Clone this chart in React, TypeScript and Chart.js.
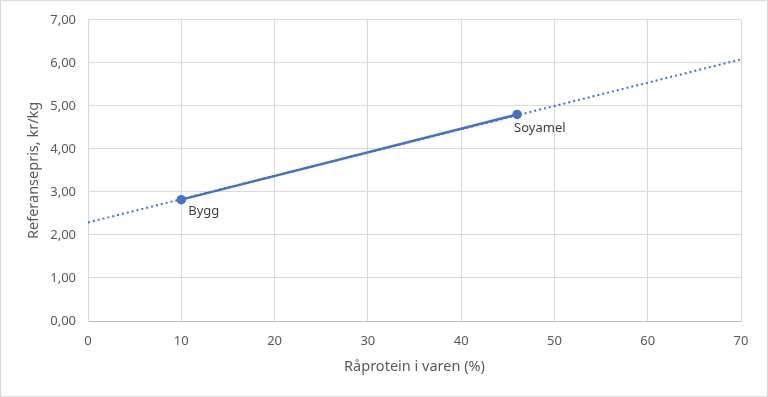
import React, { useEffect, useRef } from "react";
import { Chart, registerables } from "chart.js";

Chart.register(...registerables);

const pointNames = ["Bygg", "Soyamel"];
const proteinValues = [10, 46];
const priceValues = [2.82, 4.8];
const trendX = [0, 70];
const trendY = [2.29, 6.08];
const xTickValues = [0, 10, 20, 30, 40, 50, 60, 70];
const yTickValues = [0, 1, 2, 3, 4, 5, 6, 7];

const BLUE = "#4472C4";
const TEXT = "#595959";
const GRID = "#d9d9d9";
const FONT = "'Noto Sans', sans-serif";

const labelPlugin = {
  id: "pointLabels",
  afterDatasetsDraw(chart: any) {
    const ctx = chart.ctx;
    const meta = chart.getDatasetMeta(0);
    const offsets = [
      [7, 12],
      [-3, 14],
    ];
    ctx.save();
    ctx.font = `13px ${FONT}`;
    ctx.fillStyle = "#404040";
    ctx.textAlign = "left";
    ctx.textBaseline = "middle";
    meta.data.forEach((el: any, i: number) => {
      ctx.fillText(pointNames[i], el.x + offsets[i][0], el.y + offsets[i][1]);
    });
    ctx.restore();
  },
};

const borderPlugin = {
  id: "outerBorder",
  beforeDraw(chart: any) {
    const ctx = chart.ctx;
    ctx.save();
    ctx.fillStyle = "#ffffff";
    ctx.fillRect(0, 0, chart.width, chart.height);
    ctx.strokeStyle = GRID;
    ctx.lineWidth = 1;
    ctx.strokeRect(0.5, 0.5, chart.width - 1, chart.height - 1);
    ctx.restore();
  },
};

export default function App() {
  const ref = useRef<HTMLCanvasElement>(null);
  useEffect(() => {
    document.body.style.margin = "0";
    const canvas = ref.current!;
    const chart = new Chart(canvas, {
      type: "scatter",
      data: {
        datasets: [
          {
            data: proteinValues.map((x, i) => ({ x, y: priceValues[i] })),
            showLine: true,
            borderColor: BLUE,
            backgroundColor: BLUE,
            borderWidth: 2.5,
            pointRadius: 3.5,
            pointHoverRadius: 3.5,
            pointBackgroundColor: BLUE,
            pointBorderColor: BLUE,
          },
          {
            data: trendX.map((x, i) => ({ x, y: trendY[i] })),
            showLine: true,
            borderColor: BLUE,
            borderWidth: 2,
            borderDash: [2, 3],
            pointRadius: 0,
          },
        ],
      },
      options: {
        animation: false,
        responsive: false,
        layout: { padding: { left: 0, right: 27, top: 19, bottom: 0 } },
        plugins: {
          legend: { display: false },
          tooltip: { enabled: false },
        },
        scales: {
          x: {
            type: "linear",
            min: 0,
            max: 70,
            afterBuildTicks(scale: any) {
              scale.ticks = xTickValues.map((v) => ({ value: v }));
            },
            afterFit(scale: any) {
              scale.height = 76;
            },
            grid: { color: GRID, drawTicks: false },
            border: { color: "#bfbfbf" },
            ticks: {
              color: TEXT,
              padding: 12,
              font: { family: FONT, size: 13 },
            },
            title: {
              display: true,
              text: "Råprotein i varen (%)",
              color: TEXT,
              font: { family: FONT, size: 14.5 },
              padding: { top: 0, bottom: 21 },
            },
          },
          y: {
            type: "linear",
            min: 0,
            max: 7,
            afterBuildTicks(scale: any) {
              scale.ticks = yTickValues.map((v) => ({ value: v }));
            },
            afterFit(scale: any) {
              scale.width = 88;
            },
            grid: { color: GRID, drawTicks: false },
            border: { color: GRID },
            ticks: {
              color: TEXT,
              padding: 12,
              font: { family: FONT, size: 13 },
              callback: (v: any) => Number(v).toFixed(2).replace(".", ","),
            },
            title: {
              display: true,
              text: "Referansepris, kr/kg",
              color: TEXT,
              font: { family: FONT, size: 14.5 },
              padding: { top: 25, bottom: 0 },
            },
          },
        },
      },
      plugins: [borderPlugin, labelPlugin],
    });
    return () => chart.destroy();
  }, []);
  return (
    <div style={{ width: 768, height: 397 }}>
      <canvas ref={ref} width={768} height={397} style={{ display: "block" }} />
    </div>
  );
}
